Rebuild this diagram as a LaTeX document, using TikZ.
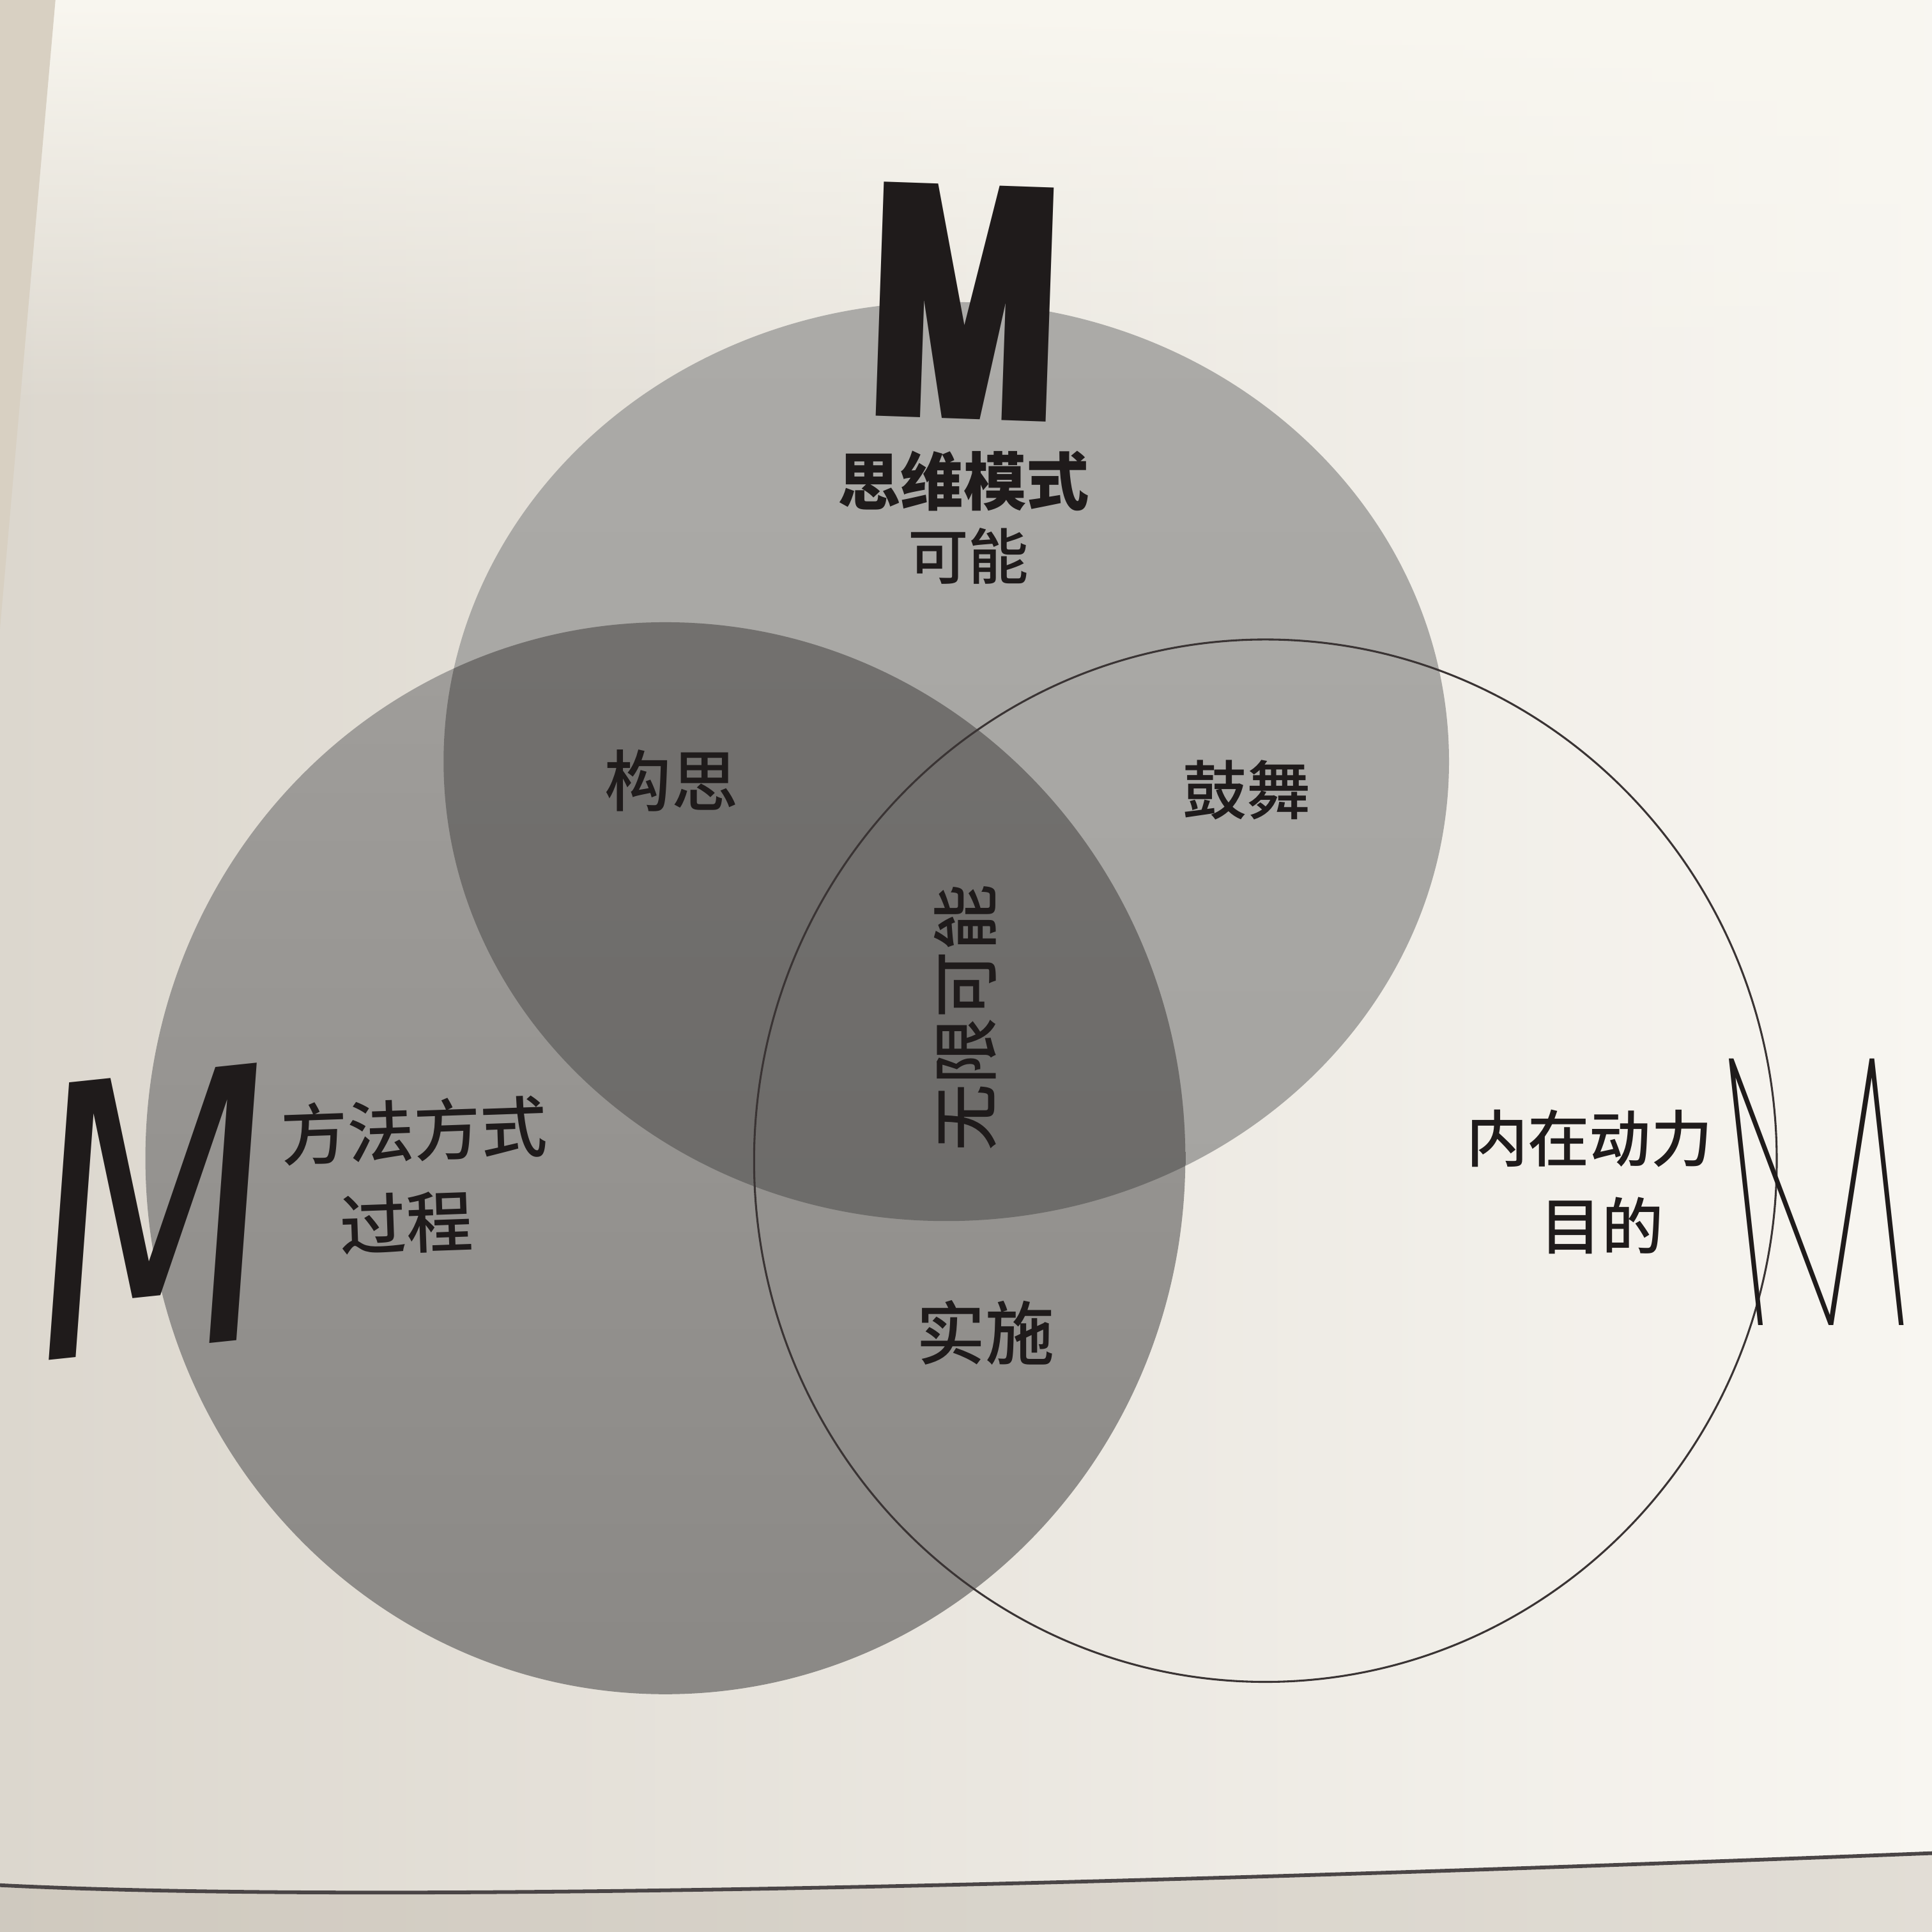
\documentclass[tikz,border=0pt]{standalone}
\usepackage{fontspec}
\usepackage{graphicx}
\usetikzlibrary{fadings}
\newfontfamily\cjk{Noto Sans CJK SC}
\IfFontExistsTF{Noto Sans CJK SC Medium}{\newfontfamily\cjkm{Noto Sans CJK SC Medium}}{\newfontfamily\cjkm{Noto Sans CJK SC}}
\newfontfamily\dsans{DejaVu Sans}
\IfFontExistsTF{Poppins Black}{\newfontfamily\mheavy{Poppins Black}}{\newfontfamily\mheavy{Liberation Sans Bold}}
\IfFontExistsTF{Poppins Thin}{\newfontfamily\mthin{Poppins Thin}}{%
  \IfFontExistsTF{Fira Sans Thin}{\newfontfamily\mthin{Fira Sans Thin}}{%
    \IfFontExistsTF{DejaVu Sans ExtraLight}{\newfontfamily\mthin{DejaVu Sans ExtraLight}}{\newfontfamily\mthin{Liberation Sans}}}}
\newcommand\fsz[1]{\fontsize{#1}{#1}\selectfont}
\definecolor{bgL}{HTML}{DCD7CE}
\definecolor{bgR}{HTML}{F8F6F1}
\definecolor{bgT}{HTML}{F9F7F0}
\definecolor{stripc}{HTML}{D8D0C2}
\definecolor{pageline}{HTML}{4A4546}
\definecolor{bottomc}{HTML}{B9B1A4}
\definecolor{topA}{HTML}{ABAAA7}
\definecolor{topB}{HTML}{A5A4A1}
\definecolor{leftA}{HTML}{A09E9B}
\definecolor{leftB}{HTML}{8A8885}
\definecolor{ovA}{HTML}{72706E}
\definecolor{ovB}{HTML}{696866}
\definecolor{circline}{HTML}{3A3434}
\definecolor{textc}{HTML}{1F1B1B}
\tikzset{
  lab/.style={inner sep=0pt, text=textc, text height=40pt, text depth=4pt},
  bigM/.style={inner sep=0pt, text=textc},
}
\begin{document}
\begin{tikzpicture}[x=1pt,y=1pt]
\useasboundingbox (0,0) rectangle (1568,-1568);
% page
\shade[left color=bgL, right color=bgR] (0,0) rectangle (1568,-1568);
\fill[bgT, path fading=south] (0,0) rectangle (1568,-330);
\fill[stripc] (0,0) -- (45,0) -- (0,-510) -- cycle;
\fill[bottomc, opacity=0.35] (0,-1530) .. controls (300,-1545) and (900,-1530) .. (1568,-1504) -- (1568,-1568) -- (0,-1568) -- cycle;
\draw[pageline, line width=3pt] (0,-1530) .. controls (300,-1545) and (900,-1530) .. (1568,-1504);
% circles
\shade[top color=topA, bottom color=topB] (768,-618) ellipse [x radius=408pt, y radius=373pt];
\shade[top color=leftA, bottom color=leftB] (540,-940) ellipse [x radius=422pt, y radius=435pt];
\begin{scope}
  \clip (768,-618) ellipse [x radius=408pt, y radius=373pt];
  \shade[top color=ovA, bottom color=ovB] (540,-940) ellipse [x radius=422pt, y radius=435pt];
\end{scope}
\draw[circline, line width=1.6pt] (1027,-942) ellipse [x radius=415pt, y radius=423pt];
% big letters
\node[bigM, anchor=south, rotate=-2] (mtop) at (780,-340) {\resizebox{154pt}{190pt}{\mheavy M}};
\node[bigM, anchor=south, rotate=6, xslant=0.18] (mleft) at (116,-1096) {\resizebox{198pt}{222pt}{\dsans M}};
\node[bigM, anchor=south, xslant=-0.11] (mright) at (1486,-1076) {\resizebox{150pt}{216pt}{\mthin M}};
% labels
\node[lab, font={\cjk\bfseries\fsz{51}}] (swms) at (782,-392) {思维模式};
\node[lab, font={\cjkm\fsz{49}}] (kn) at (786,-452) {可能};
\node[lab, font={\cjkm\fsz{54}}] (gs) at (545,-636) {构思};
\node[lab, font={\cjkm\fsz{52}}] (gw) at (1012,-643) {鼓舞};
\node[lab, font={\cjkm\fsz{54}}, rotate=90] (wxkn) at (786,-826) {无限可能};
\node[lab, font={\cjkm\fsz{54}}, rotate=2] (fffs) at (336,-920) {方法方式};
\node[lab, font={\cjkm\fsz{54}}, rotate=2] (gc) at (330,-995) {过程};
\node[lab, font={\cjkm\fsz{56}}] (ss) at (800,-1085) {实施};
\node[lab, font={\cjkm\fsz{50}}] (nzdl) at (1290,-925) {内在动力};
\node[lab, font={\cjkm\fsz{50}}] (md) at (1300,-996) {目的};
\end{tikzpicture}
\end{document}
